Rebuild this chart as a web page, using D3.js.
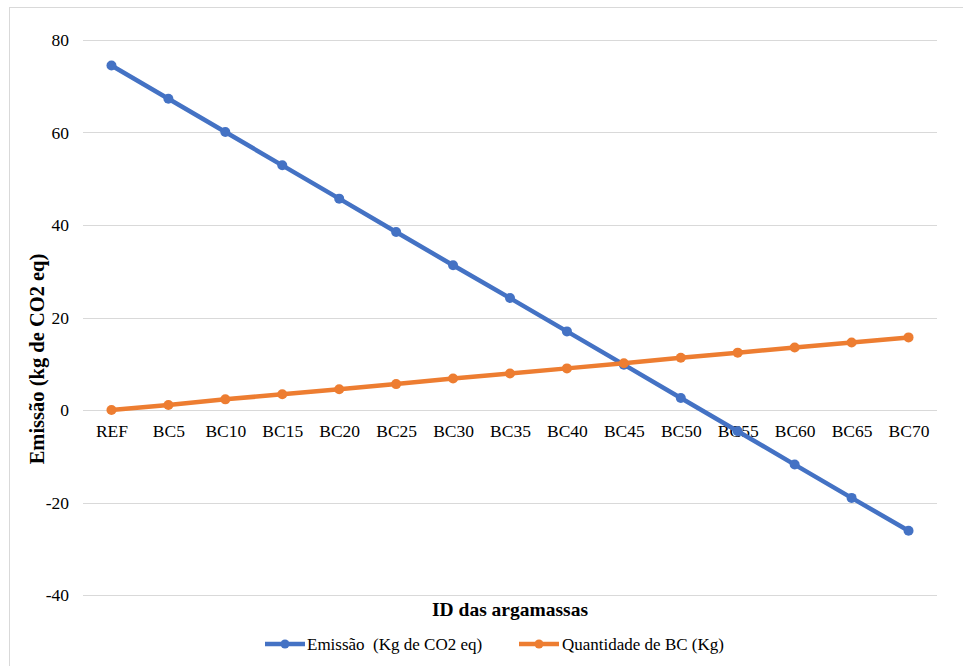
<!DOCTYPE html>
<html>
<head>
<meta charset="utf-8">
<script src="https://cdn.jsdelivr.net/npm/d3@7/dist/d3.min.js"></script>
<style>
  html, body { margin: 0; padding: 0; background: #fff; }
  svg { display: block; }
  svg text { font-family: "Times New Roman", "Liberation Serif", Tinos, "DejaVu Serif", serif !important; fill: #000; white-space: pre; }
</style>
</head>
<body>
<svg id="chart" width="963" height="666"></svg>
<script>
// Mortar mixes (x axis)
const categories = ["REF", "BC5", "BC10", "BC15", "BC20", "BC25", "BC30", "BC35",
                    "BC40", "BC45", "BC50", "BC55", "BC60", "BC65", "BC70"];
// Emissions, kg CO2 eq
const emissao = [74.5, 67.3, 60.1, 52.9, 45.7, 38.5, 31.3, 24.2,
                 17.0, 9.8, 2.6, -4.6, -11.8, -19.0, -26.1];
// Amount of BC, kg
const quantidadeBC = [0, 1.1, 2.3, 3.4, 4.5, 5.6, 6.8, 7.9,
                      9.0, 10.1, 11.3, 12.4, 13.5, 14.6, 15.7];
const yTicks = [-40, -20, 0, 20, 40, 60, 80];
const seriesNames = ["Emissão  (Kg de CO2 eq)", "Quantidade de BC (Kg)"];
const seriesColors = ["#4472C4", "#ED7D31"];

const svg = d3.select("#chart");

// chart area frame (only top and left edges fall inside the view)
svg.append("rect")
  .attr("x", 9.5).attr("y", 7.5)
  .attr("width", 1000).attr("height", 700)
  .attr("fill", "#fff").attr("stroke", "#d9d9d9").attr("stroke-width", 1);

const plot = { left: 83, right: 937, top: 40, bottom: 595 };

const x = d3.scalePoint().domain(categories)
  .range([plot.left, plot.right]).padding(0.5);
const y = d3.scaleLinear().domain([-40, 80]).range([plot.bottom, plot.top]);

// gridlines
svg.append("g").selectAll("line").data(yTicks).join("line")
  .attr("x1", plot.left).attr("x2", plot.right)
  .attr("y1", d => Math.round(y(d)) + 0.5).attr("y2", d => Math.round(y(d)) + 0.5)
  .attr("stroke", "#d9d9d9").attr("stroke-width", 1);

// y axis labels (plain hyphen for negatives)
const yAxis = d3.axisLeft(y).tickValues(yTicks).tickSize(0).tickPadding(14)
  .tickFormat(d => String(d));
svg.append("g").attr("transform", `translate(${plot.left},0)`).call(yAxis)
  .attr("font-family", null)
  .call(g => g.select(".domain").remove())
  .call(g => g.selectAll("text").attr("font-size", 17.5));

// category labels sit just under the zero line
const xAxis = d3.axisBottom(x).tickSize(0).tickPadding(14.5);
svg.append("g").attr("transform", `translate(0,${y(0)})`).call(xAxis)
  .attr("font-family", null)
  .call(g => g.select(".domain").remove())
  .call(g => g.selectAll("text").attr("font-size", 17.5));

// axis titles
svg.append("text")
  .attr("transform", `translate(44,359) rotate(-90)`)
  .attr("text-anchor", "middle").attr("font-size", 20.5).attr("font-weight", "bold")
  .text("Emissão (kg de CO2 eq)");
svg.append("text")
  .attr("x", 510).attr("y", 616)
  .attr("text-anchor", "middle").attr("font-size", 19.5).attr("font-weight", "bold")
  .text("ID das argamassas");

// series
const series = [emissao, quantidadeBC];
const line = d3.line().x((d, i) => x(categories[i])).y(d => y(d));
series.forEach((vals, s) => {
  const g = svg.append("g");
  g.append("path").datum(vals)
    .attr("d", line).attr("fill", "none")
    .attr("stroke", seriesColors[s]).attr("stroke-width", 4.5)
    .attr("stroke-linejoin", "round").attr("stroke-linecap", "round");
  g.selectAll("circle").data(vals).join("circle")
    .attr("cx", (d, i) => x(categories[i])).attr("cy", d => y(d))
    .attr("r", 5).attr("fill", seriesColors[s]);
});

// legend
const legendY = 644;
const legendItems = [{ x: 265, tx: 307 }, { x: 519, tx: 562 }];
legendItems.forEach((it, s) => {
  const g = svg.append("g");
  g.append("line").attr("x1", it.x).attr("x2", it.x + 40)
    .attr("y1", legendY).attr("y2", legendY)
    .attr("stroke", seriesColors[s]).attr("stroke-width", 4.5);
  g.append("circle").attr("cx", it.x + 20).attr("cy", legendY).attr("r", 4.5)
    .attr("fill", seriesColors[s]);
  g.append("text").attr("x", it.tx).attr("y", legendY + 6)
    .attr("font-size", 17).text(seriesNames[s]);
});
</script>
</body>
</html>
